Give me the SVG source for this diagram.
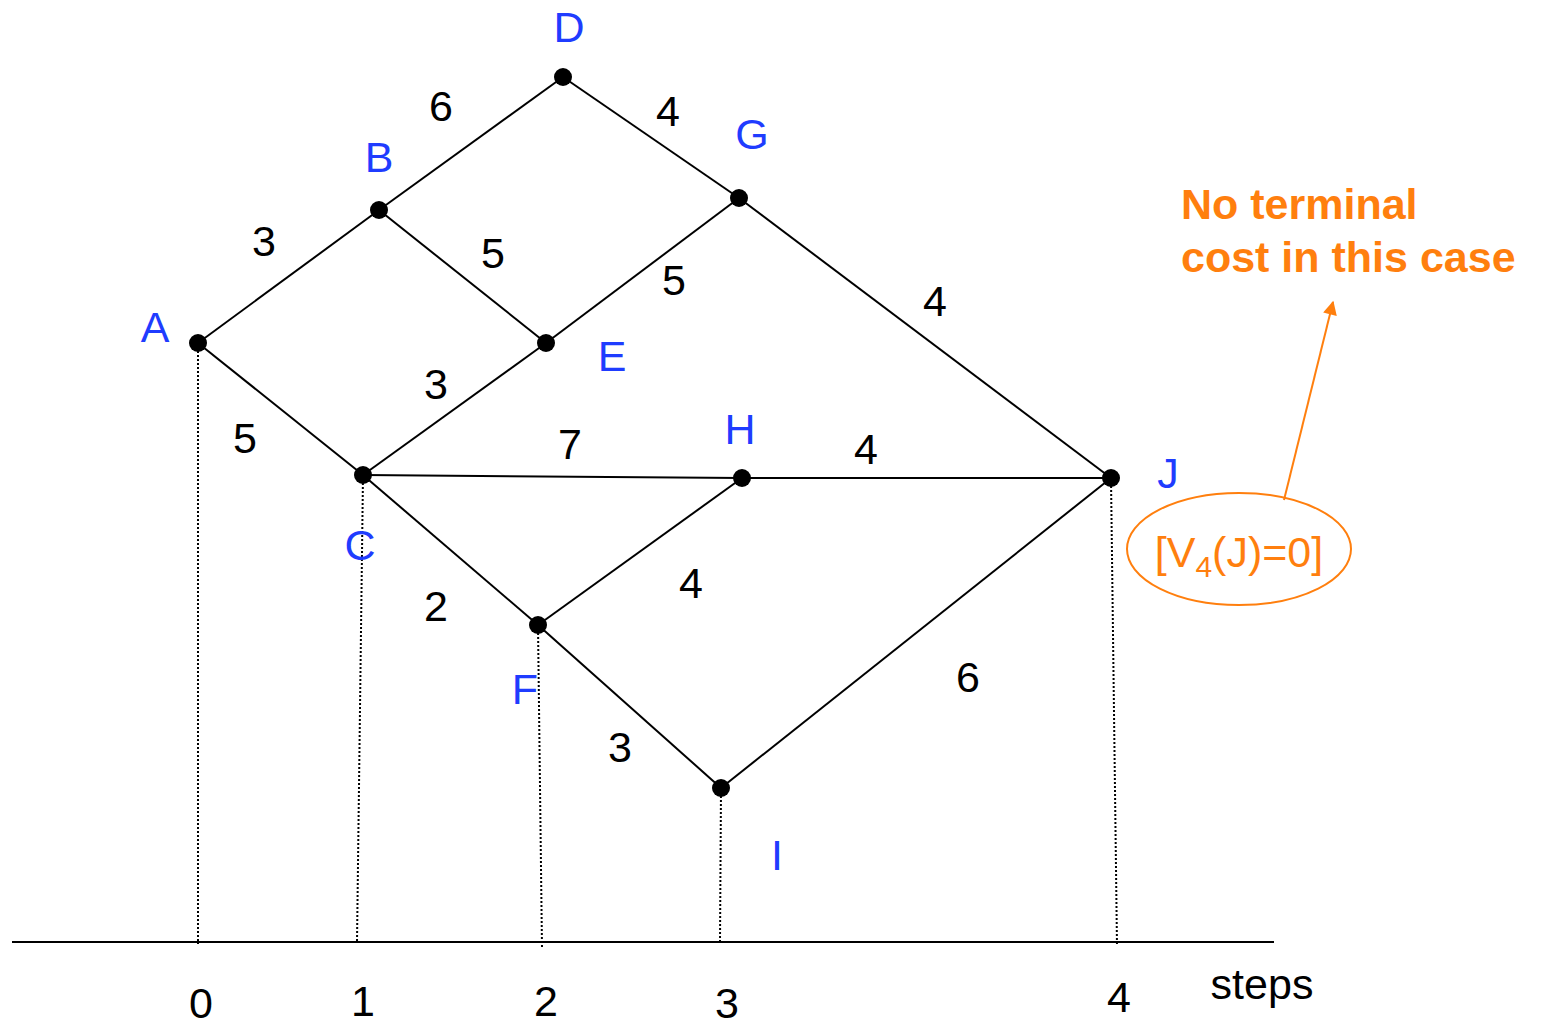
<svg xmlns="http://www.w3.org/2000/svg" width="1546" height="1024" viewBox="0 0 1546 1024">
<style>
.e{stroke:#000;stroke-width:2;fill:none}
.d{stroke:#000;stroke-width:2;stroke-dasharray:2 2;fill:none}
.n{fill:#000}
.lb{font-family:"Liberation Sans",Arial,sans-serif;font-size:43px;fill:#1f3cff;text-anchor:middle}
.w{font-family:"Liberation Sans",Arial,sans-serif;font-size:43px;fill:#000;text-anchor:middle}
.o{font-family:"Liberation Sans",Arial,sans-serif;font-size:43px;fill:#ff7f0e}
</style>
<defs>
<marker id="ah" viewBox="0 0 10 10" refX="9" refY="5" markerWidth="8" markerHeight="7" orient="auto" markerUnits="strokeWidth">
<path d="M0,0 L10,5 L0,10 z" fill="#ff7f0e"/>
</marker>
</defs>
<rect width="1546" height="1024" fill="#fff"/>
<g id="axis">
<line x1="12" y1="942" x2="1274" y2="942" stroke="#000" stroke-width="2"/>
<line class="d" x1="198" y1="343" x2="198" y2="944"/>
<line class="d" x1="363" y1="475" x2="357" y2="942"/>
<line class="d" x1="538" y1="625" x2="542" y2="948"/>
<line class="d" x1="721" y1="788" x2="720" y2="942"/>
<line class="d" x1="1111" y1="478" x2="1117" y2="946"/>
<text class="w" x="201" y="1018">0</text>
<text class="w" x="363" y="1016">1</text>
<text class="w" x="546" y="1016">2</text>
<text class="w" x="727" y="1018">3</text>
<text class="w" x="1119" y="1012">4</text>
<text class="w" x="1262" y="999">steps</text>
</g>
<g id="connectors">
<line class="e" x1="198" y1="343" x2="379" y2="210"/>
<line class="e" x1="379" y1="210" x2="563" y2="77"/>
<line class="e" x1="563" y1="77" x2="739" y2="198"/>
<line class="e" x1="379" y1="210" x2="546" y2="343"/>
<line class="e" x1="739" y1="198" x2="546" y2="343"/>
<line class="e" x1="739" y1="198" x2="1111" y2="478"/>
<line class="e" x1="198" y1="343" x2="363" y2="475"/>
<line class="e" x1="363" y1="475" x2="546" y2="343"/>
<line class="e" x1="363" y1="475" x2="742" y2="478"/>
<line class="e" x1="742" y1="478" x2="1111" y2="478"/>
<line class="e" x1="363" y1="475" x2="538" y2="625"/>
<line class="e" x1="538" y1="625" x2="742" y2="478"/>
<line class="e" x1="538" y1="625" x2="721" y2="788"/>
<line class="e" x1="721" y1="788" x2="1111" y2="478"/>
<text class="w" x="441" y="121">6</text>
<text class="w" x="668" y="126">4</text>
<text class="w" x="264" y="256">3</text>
<text class="w" x="493" y="268">5</text>
<text class="w" x="674" y="295">5</text>
<text class="w" x="935" y="316">4</text>
<text class="w" x="436" y="399">3</text>
<text class="w" x="245" y="453">5</text>
<text class="w" x="570" y="459">7</text>
<text class="w" x="866" y="464">4</text>
<text class="w" x="691" y="598">4</text>
<text class="w" x="436" y="621">2</text>
<text class="w" x="968" y="692">6</text>
<text class="w" x="620" y="762">3</text>
</g>
<g id="A"><circle class="n" cx="198" cy="343" r="9"/><text class="lb" x="155" y="342">A</text></g>
<g id="B"><circle class="n" cx="379" cy="210" r="9"/><text class="lb" x="379" y="172">B</text></g>
<g id="C"><circle class="n" cx="363" cy="475" r="9"/><text class="lb" x="360" y="560">C</text></g>
<g id="D"><circle class="n" cx="563" cy="77" r="9"/><text class="lb" x="569" y="42">D</text></g>
<g id="E"><circle class="n" cx="546" cy="343" r="9"/><text class="lb" x="612" y="371">E</text></g>
<g id="F"><circle class="n" cx="538" cy="625" r="9"/><text class="lb" x="525" y="704">F</text></g>
<g id="G"><circle class="n" cx="739" cy="198" r="9"/><text class="lb" x="752" y="149">G</text></g>
<g id="H"><circle class="n" cx="742" cy="478" r="9"/><text class="lb" x="740" y="444">H</text></g>
<g id="I"><circle class="n" cx="721" cy="788" r="9"/><text class="lb" x="777" y="870">I</text></g>
<g id="J"><circle class="n" cx="1111" cy="478" r="9"/><text class="lb" x="1168" y="488">J</text></g>
<g id="note">
<text class="o" x="1181" y="219" font-weight="bold">No terminal</text>
<text class="o" x="1181" y="272" font-weight="bold">cost in this case</text>
<ellipse cx="1239" cy="549" rx="112" ry="56" fill="none" stroke="#ff7f0e" stroke-width="2"/>
<text class="o" x="1239" y="567" text-anchor="middle">[V<tspan font-size="30" dy="10">4</tspan><tspan dy="-10">(J)=0]</tspan></text>
<line x1="1284" y1="500" x2="1333" y2="302" stroke="#ff7f0e" stroke-width="2" marker-end="url(#ah)"/>
</g>
</svg>
